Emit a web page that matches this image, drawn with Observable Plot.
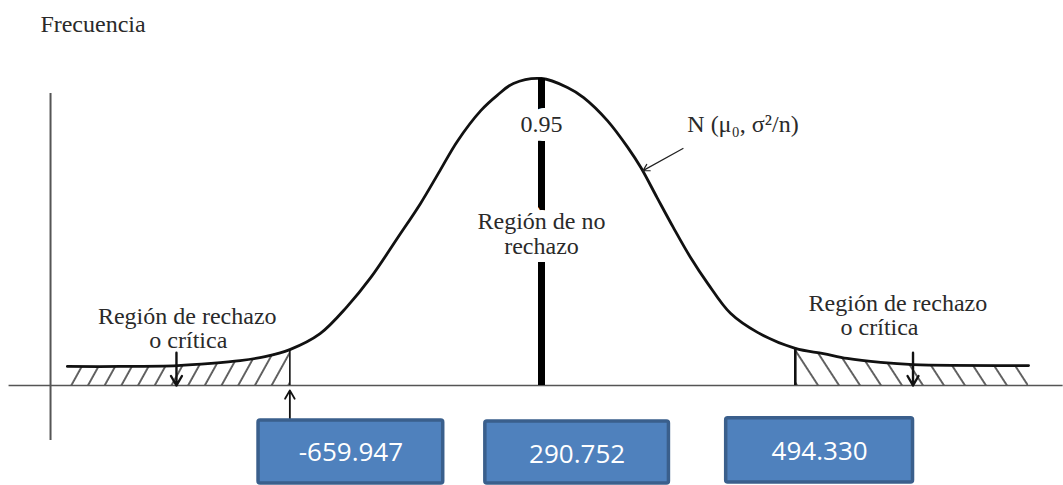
<!DOCTYPE html>
<html><head><meta charset="utf-8">
<script src="https://cdn.jsdelivr.net/npm/d3@7"></script>
<script src="https://cdn.jsdelivr.net/npm/@observablehq/plot@0.6"></script>
<style>body{margin:0;background:#fff} #chart svg{display:block}</style>
</head><body><div id="chart"></div>
<script>
// Curve: standardized value z and relative frequency (peak = 100)
const zValues = [-4.39,-3.90,-3.37,-3.06,-2.79,-2.56,-2.33,-2.05,-1.80,-1.58,-1.33,-1.12,-0.94,-0.78,-0.56,-0.41,-0.26,0,0.24,0.39,0.61,0.80,0.92,1.07,1.22,1.38,1.54,1.75,2.00,2.35,2.61,2.83,3.14,3.44,4.51];
const freqValues = [6.2,6.2,6.5,7.2,8.1,9.4,11.7,16.9,25.7,35.2,48.2,59.3,70.0,79.5,89.6,94.5,98.4,100,97.1,93.8,86.3,77.5,71.0,61.2,51.5,41.7,33.2,23.5,17.3,12.1,10.4,8.8,7.5,6.8,6.5];
const criticalZ = [-2.33, 2.35];
const meanZ = 0;
const confidence = "0.95";
const axisTitle = "Frecuencia";
const centerLabel = "Región de no\nrechazo";
const tailLabelLine1 = "Región de rechazo";
const tailLabelLine2 = "o crítica";
const distLabel = "N (μ₀, σ²/n)";
const boxLabels = ["-659.947", "290.752", "494.330"];

const curve = zValues.map((z, i) => ({z, f: freqValues[i]}));
const fAt = z => curve.find(d => d.z === z).f;
const peak = d3.max(freqValues);
const leftTail = curve.filter(d => d.z <= criticalZ[0]);
const rightTail = curve.filter(d => d.z >= criticalZ[1]);

// layout of the annotation boxes (x in z units, y in frequency units)
const boxX1 = [-2.62, -0.52, 1.71], boxX2 = [-0.91, 1.18, 3.44];
const boxTop = [-11.4, -11.7, -10.7], boxBottom = [-31.9, -31.9, -31.6];
const boxTextY = [-21.8, -22.4, -21.4];

const serif = "Liberation Serif, Times New Roman, serif";
const ink = "#2a2a2a";

const svg = Plot.plot({
  width: 1063, height: 485,
  marginTop: 78, marginBottom: 100, marginLeft: 0, marginRight: 0,
  x: {domain: [-541/108, 522/108], axis: null},
  y: {domain: [0, 100], axis: null},
  style: {background: "white", overflow: "visible"},
  marks: [
    Plot.areaY(leftTail, {x: "z", y1: 0, y2: "f", fill: "url(#hatchL)", curve: "catmull-rom"}),
    Plot.areaY(rightTail, {x: "z", y1: 0, y2: "f", fill: "url(#hatchR)", curve: "catmull-rom"}),
    Plot.ruleY([0], {x1: -4.93, x2: 4.83, stroke: "#555", strokeWidth: 1.6}),
    Plot.ruleX([-4.546], {y1: -17.9, y2: 95.1, stroke: "#555", strokeWidth: 2}),
    Plot.line(curve, {x: "z", y: "f", stroke: "#111", strokeWidth: 2.8, curve: "catmull-rom"}),
    Plot.ruleX([criticalZ[0]], {y1: 0, y2: fAt(criticalZ[0]), stroke: "#111", strokeWidth: 1.6}),
    Plot.ruleX([criticalZ[1]], {y1: 0, y2: fAt(criticalZ[1]), stroke: "#111", strokeWidth: 2.6}),
    Plot.ruleX([meanZ], {y1: 0, y2: peak, stroke: "#000", strokeWidth: 7}),
    Plot.text([confidence], {x: meanZ, y: 85.0, text: d => d, fontFamily: serif, fontSize: 24, fill: ink,
      stroke: "white", strokeWidth: 18, paintOrder: "stroke", strokeLinejoin: "round"}),
    Plot.text([centerLabel], {x: meanZ, y: 49.6, text: d => d, fontFamily: serif, fontSize: 24, lineHeight: 1.08, fill: ink,
      stroke: "white", strokeWidth: 16, paintOrder: "stroke", strokeLinejoin: "round"}),
    Plot.text([axisTitle], {x: -4.64, y: 117.6, text: d => d, textAnchor: "start", fontFamily: serif, fontSize: 24, fill: ink}),
    Plot.text([tailLabelLine1], {x: -3.28, y: 22.5, text: d => d, fontFamily: serif, fontSize: 24, fill: ink}),
    Plot.text([tailLabelLine2], {x: -3.27, y: 14.7, text: d => d, fontFamily: serif, fontSize: 24, fill: ink}),
    Plot.text([tailLabelLine1], {x: 3.30, y: 26.7, text: d => d, fontFamily: serif, fontSize: 24, fill: ink}),
    Plot.text([tailLabelLine2], {x: 3.13, y: 18.9, text: d => d, fontFamily: serif, fontSize: 24, fill: ink}),
    Plot.text([distLabel], {x: 1.35, y: 85.0, text: d => d, textAnchor: "start", fontFamily: serif, fontSize: 24, fill: ink}),
    Plot.arrow([distLabel], {x1: 1.31, y1: 77.2, x2: 0.94, y2: 70.0, stroke: "#222", strokeWidth: 1.2, headLength: 9}),
    Plot.arrow([0], {x1: -3.38, y1: 10.7, x2: -3.38, y2: 0, stroke: "#111", strokeWidth: 2.4, headLength: 8}),
    Plot.arrow([0], {x1: 3.44, y1: 10.7, x2: 3.44, y2: 0, stroke: "#111", strokeWidth: 2.4, headLength: 8}),
    Plot.arrow([0], {x1: criticalZ[0], y1: -11.4, x2: criticalZ[0], y2: -1.6, stroke: "#111", strokeWidth: 1.8, headLength: 8}),
    Plot.rect(boxLabels, {x1: (d, i) => boxX1[i], x2: (d, i) => boxX2[i], y1: (d, i) => boxBottom[i], y2: (d, i) => boxTop[i],
      fill: "#4F81BD", stroke: "#3A5F8C", strokeWidth: 3.5, rx: 2}),
    Plot.text(boxLabels, {x: (d, i) => (boxX1[i] + boxX2[i]) / 2, y: (d, i) => boxTextY[i], text: d => d,
      fill: "white", fontFamily: "Open Sans, Liberation Sans, sans-serif", fontSize: 26})
  ]
});

const defs = d3.select(svg).insert("defs", ":first-child");
const pL = defs.append("pattern").attr("id", "hatchL").attr("patternUnits", "userSpaceOnUse")
  .attr("width", 14.6).attr("height", 20).attr("patternTransform", "rotate(29)");
pL.append("line").attr("x1", 1).attr("y1", -2).attr("x2", 1).attr("y2", 22).attr("stroke", "#222").attr("stroke-width", 1.4);
const pR = defs.append("pattern").attr("id", "hatchR").attr("patternUnits", "userSpaceOnUse")
  .attr("width", 17.6).attr("height", 20).attr("patternTransform", "rotate(-33)");
pR.append("line").attr("x1", 1).attr("y1", -2).attr("x2", 1).attr("y2", 22).attr("stroke", "#222").attr("stroke-width", 1.4);

document.getElementById("chart").appendChild(svg);
</script></body></html>
